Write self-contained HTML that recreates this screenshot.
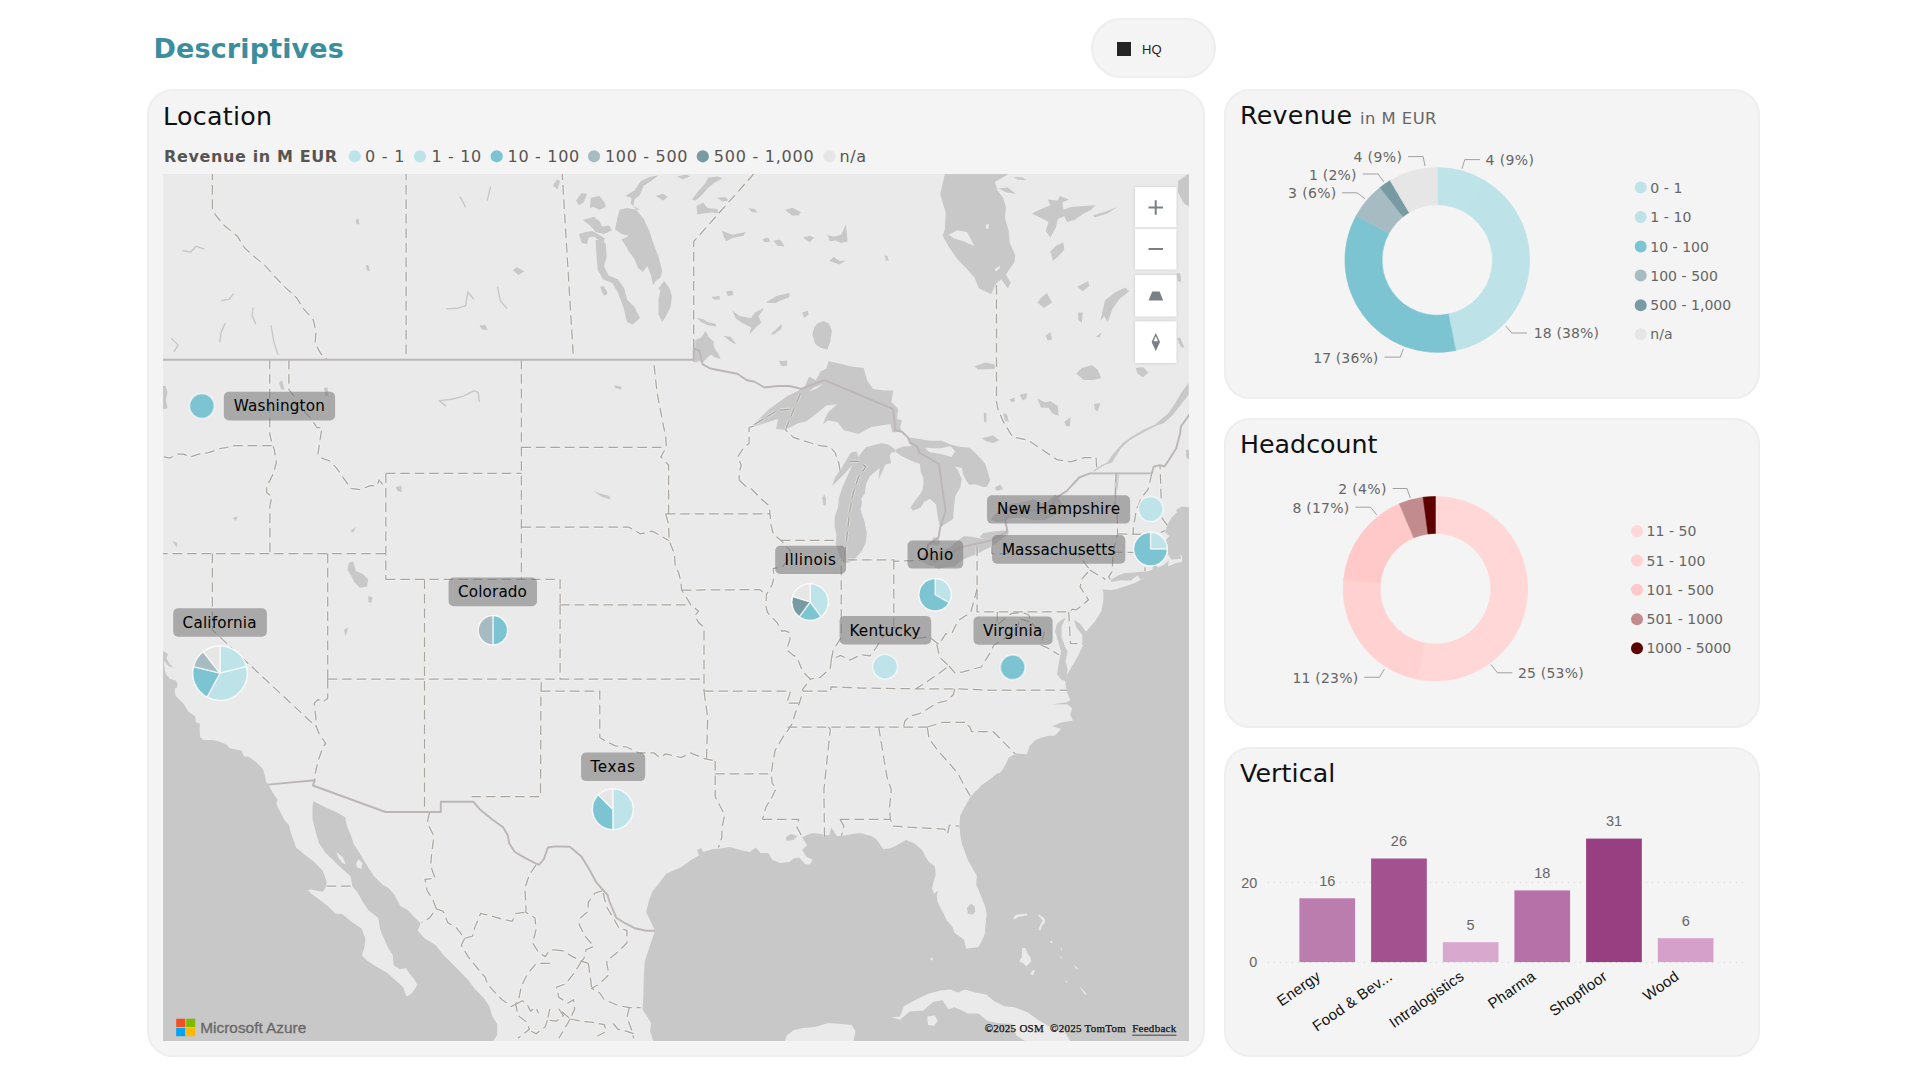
<!DOCTYPE html>
<html lang="en">
<head>
<meta charset="utf-8">
<title>Descriptives</title>
<style>
html,body{margin:0;padding:0;background:#fff;}
body{width:1920px;height:1080px;position:relative;overflow:hidden;font-family:"DejaVu Sans","Liberation Sans",sans-serif;color:#111;}
.abs{position:absolute;}
.card{position:absolute;background:#f4f4f4;border:2px solid #eee;border-radius:26px;box-sizing:border-box;}
.title{position:absolute;font-size:25.3px;line-height:30px;letter-spacing:0.3px;color:#111;white-space:nowrap;}
.h1{position:absolute;left:153.4px;top:31.3px;font-size:27px;letter-spacing:0.15px;line-height:36px;font-weight:bold;color:#3a8e9e;white-space:nowrap;}
.pill{position:absolute;left:1091px;top:18px;width:125px;height:60px;border-radius:30px;background:#f4f4f4;border:2px solid #eee;box-sizing:border-box;}
.pill i{position:absolute;left:24.3px;top:21.8px;width:14px;height:14px;background:#252525;}
.pill span{position:absolute;left:49px;top:22px;font:13px/16px "Liberation Sans",sans-serif;color:#252525;}
.lg{position:absolute;white-space:nowrap;font-size:16.5px;line-height:20px;color:#555;}
.lg b{color:#555;}
svg text{font-family:"DejaVu Sans","Liberation Sans",sans-serif;}
svg .seg text{font-family:"Liberation Sans",sans-serif;}
</style>
</head>
<body>
<div class="h1">Descriptives</div>
<div class="pill"><i></i><span>HQ</span></div>

<!-- LOCATION CARD -->
<div class="card" style="left:147px;top:89px;width:1058px;height:968px;"></div>
<div class="title" style="left:163px;top:101.7px;">Location</div>
<svg class="abs" style="left:160px;top:140px" width="760" height="34" viewBox="160 140 760 34">
<text x="164" y="162.4" font-size="16" font-weight="bold" fill="#575451" textLength="173.2" lengthAdjust="spacing">Revenue in M EUR</text>
<circle cx="354.8" cy="156.3" r="6.1" fill="#bee3e9"/>
<text x="365.0" y="162.4" font-size="16" fill="#575451" textLength="39.4" lengthAdjust="spacing">0 - 1</text>
<circle cx="420.0" cy="156.3" r="6.1" fill="#bde2e8"/>
<text x="431.6" y="162.4" font-size="16" fill="#575451" textLength="49.6" lengthAdjust="spacing">1 - 10</text>
<circle cx="496.7" cy="156.3" r="6.1" fill="#7cc4d1"/>
<text x="507.5" y="162.4" font-size="16" fill="#575451" textLength="71.8" lengthAdjust="spacing">10 - 100</text>
<circle cx="594.0" cy="156.3" r="6.1" fill="#a6bcc2"/>
<text x="605.0" y="162.4" font-size="16" fill="#575451" textLength="82.5" lengthAdjust="spacing">100 - 500</text>
<circle cx="702.8" cy="156.3" r="6.1" fill="#789ba3"/>
<text x="713.8" y="162.4" font-size="16" fill="#575451" textLength="99.8" lengthAdjust="spacing">500 - 1,000</text>
<circle cx="829.5" cy="156.3" r="6.1" fill="#e6e6e6"/>
<text x="839.4" y="162.4" font-size="16" fill="#575451" textLength="26.6" lengthAdjust="spacing">n/a</text>
</svg>
<svg class="abs" style="left:163px;top:174px" width="1026" height="867" viewBox="163 174 1026 867">
<defs><filter id="sh" x="-20%" y="-20%" width="140%" height="140%"><feDropShadow dx="0" dy="0" stdDeviation="1.5" flood-color="#000" flood-opacity="0.16"/></filter></defs>
<rect x="163" y="174" width="1026" height="867" fill="#eaeaea"/>
<g fill="#c8c8c8">
<path d="M158.0,659.1 L163.4,659.1 L163.8,660.1 L164.0,664.5 L164.4,667.0 L165.9,674.3 L170.2,679.1 L173.7,680.1 L175.6,680.3 L177.7,684.0 L176.6,688.3 L175.0,688.3 L174.8,691.2 L175.6,696.0 L183.3,703.2 L188.2,711.6 L195.0,716.3 L195.5,718.2 L195.9,722.3 L199.8,723.5 L199.6,729.4 L200.0,736.9 L203.3,740.0 L212.4,740.0 L218.2,741.2 L226.0,744.2 L229.8,748.2 L236.6,749.8 L241.5,750.5 L243.4,755.2 L245.3,757.1 L248.2,756.4 L253.1,759.8 L257.3,763.3 L263.0,769.1 L265.3,777.2 L265.9,781.4 L268.2,784.6 L272.4,792.1 L277.7,800.1 L276.3,803.6 L278.3,808.1 L284.1,819.4 L288.9,825.1 L290.8,833.0 L293.8,840.8 L296.1,847.5 L305.4,855.3 L314.1,862.0 L322.8,870.8 L326.7,881.8 L325.7,887.3 L322.8,891.7 L311.2,889.5 L307.9,889.9 L311.6,893.9 L318.9,899.3 L327.7,905.9 L335.4,913.5 L342.2,914.1 L351.9,922.1 L361.5,928.6 L365.4,938.3 L364.5,946.9 L361.9,955.4 L367.4,960.8 L375.1,966.1 L386.7,972.4 L396.4,980.9 L403.2,987.2 L406.1,995.7 L408.0,996.1 L412.5,992.5 L417.3,985.1 L414.8,979.9 L409.4,973.5 L406.1,968.2 L399.9,969.3 L393.5,965.0 L392.9,955.4 L387.7,946.9 L382.9,936.2 L380.3,929.7 L378.0,917.8 L368.3,910.2 L362.1,900.7 L357.7,892.8 L352.4,886.2 L350.5,876.3 L338.3,865.3 L325.7,853.1 L318.9,843.0 L316.2,834.1 L312.5,818.8 L312.5,808.1 L313.1,801.3 L318.0,803.6 L326.7,808.1 L337.3,812.6 L345.1,817.2 L347.0,826.2 L350.9,835.2 L353.8,844.2 L359.6,853.1 L363.5,859.7 L368.3,867.5 L374.1,876.3 L382.9,885.1 L388.7,888.0 L394.5,895.0 L400.3,905.9 L408.0,910.2 L412.9,915.7 L420.6,923.2 L417.7,930.8 L424.5,938.3 L435.2,944.7 L443.9,955.4 L454.5,966.1 L467.1,978.8 L475.4,989.4 L483.6,997.8 L489.4,1006.2 L492.3,1016.6 L497.3,1024.1 L497.1,1035.4 L493.3,1040.5 L493.3,1046.0 L158.0,1046.0Z"/>
<path d="M653.1,1046.0 L653.1,1040.5 L650.2,1031.2 L651.1,1022.9 L642.4,1009.3 L643.4,997.8 L643.8,977.3 L644.7,961.8 L650.2,944.7 L655.0,930.8 L650.2,920.3 L646.1,912.2 L649.2,900.0 L652.2,891.8 L660.4,881.6 L666.5,873.5 L680.7,867.4 L690.9,860.3 L699.1,855.2 L697.0,850.1 L701.1,848.0 L703.1,852.1 L713.3,849.1 L718.4,848.7 L729.6,847.1 L743.1,850.8 L749.9,852.0 L755.7,847.5 L760.6,853.1 L768.3,853.1 L772.2,859.7 L779.9,863.1 L789.6,862.0 L793.5,858.6 L799.3,857.5 L805.1,864.2 L810.2,864.4 L812.5,859.7 L806.1,856.4 L802.2,849.7 L807.1,845.3 L804.2,840.8 L802.2,837.4 L806.1,835.2 L810.9,833.6 L814.8,833.2 L821.6,834.3 L829.3,835.2 L831.3,827.3 L834.8,833.0 L837.1,836.3 L845.8,835.2 L855.5,833.4 L861.3,833.2 L871.9,836.3 L876.8,839.7 L883.4,849.3 L890.4,848.2 L896.9,845.3 L905.8,840.1 L913.6,843.0 L921.3,849.3 L926.2,857.5 L928.3,861.3 L934.9,866.4 L935.7,875.2 L933.5,881.8 L932.0,888.4 L934.1,893.9 L937.8,890.6 L936.8,896.1 L937.4,900.9 L939.5,905.9 L943.6,913.5 L946.5,920.0 L952.3,926.7 L954.7,932.9 L964.0,939.4 L966.1,948.6 L969.8,948.2 L978.5,946.9 L981.0,942.6 L984.7,934.6 L985.3,927.1 L986.6,914.6 L985.8,909.1 L984.1,903.7 L981.6,897.8 L980.2,893.9 L976.2,884.5 L976.9,876.1 L972.7,868.6 L967.8,859.7 L962.0,844.2 L960.3,835.2 L959.5,826.2 L960.1,816.0 L964.0,808.1 L970.7,796.7 L973.6,793.3 L978.5,788.7 L981.4,785.3 L989.7,779.5 L996.9,773.8 L1000.2,772.6 L1003.1,769.1 L1008.9,757.5 L1016.3,753.6 L1026.7,754.3 L1029.8,745.8 L1035.6,740.0 L1040.7,737.8 L1048.9,735.8 L1055.0,735.8 L1061.1,728.7 L1051.9,726.2 L1061.1,722.6 L1072.9,720.5 L1070.3,714.4 L1072.3,708.3 L1067.2,704.2 L1050.9,704.6 L1067.2,702.2 L1070.3,700.2 L1066.2,690.0 L1065.2,680.8 L1061.1,679.8 L1057.0,673.7 L1059.1,661.5 L1061.1,651.3 L1058.0,641.1 L1055.0,630.9 L1057.0,623.8 L1063.1,618.7 L1065.6,617.7 L1061.5,626.8 L1061.5,637.0 L1065.2,647.2 L1067.6,651.3 L1065.6,661.5 L1067.6,669.6 L1066.6,675.7 L1071.5,667.0 L1077.3,657.2 L1082.5,646.6 L1082.3,634.9 L1076.3,627.5 L1074.0,620.0 L1080.2,623.7 L1086.0,631.7 L1095.3,621.0 L1101.5,610.9 L1103.4,599.8 L1103.4,593.2 L1102.5,589.6 L1111.2,590.1 L1117.0,588.9 L1126.7,585.8 L1134.4,583.2 L1144.9,577.6 L1140.2,579.4 L1137.7,575.3 L1130.5,580.7 L1120.9,580.2 L1111.2,581.9 L1110.8,579.4 L1118.9,575.3 L1124.7,573.0 L1135.4,572.4 L1140.2,571.7 L1144.9,571.7 L1152.2,570.1 L1153.8,561.3 L1157.7,567.5 L1160.6,566.5 L1163.5,565.2 L1168.9,560.3 L1167.9,566.0 L1171.2,565.2 L1175.5,563.1 L1181.9,562.1 L1181.9,556.1 L1177.0,551.7 L1179.9,553.5 L1180.9,558.7 L1171.2,559.5 L1168.1,554.6 L1167.0,548.3 L1160.6,544.4 L1163.5,542.5 L1169.3,536.2 L1165.0,532.0 L1167.3,525.4 L1171.2,517.9 L1177.0,512.3 L1176.1,509.9 L1181.9,506.5 L1188.6,507.3 L1194.0,507.3 L1194.0,1046.0Z"/>
<path d="M752.8,424.7 L761.2,417.0 L769.3,409.1 L787.1,396.2 L799.7,390.1 L805.1,386.0 L809.0,376.7 L815.8,380.2 L820.6,371.5 L826.4,368.5 L828.4,361.2 L841.9,364.1 L849.7,366.2 L863.6,367.9 L867.1,380.2 L872.9,388.9 L884.5,390.4 L893.3,390.4 L891.3,401.9 L898.1,409.1 L897.1,419.0 L902.0,420.4 L900.0,427.5 L902.0,431.7 L892.3,432.3 L890.4,424.1 L871.4,427.0 L858.4,434.0 L843.9,430.3 L837.5,421.9 L828.4,420.4 L823.1,424.1 L825.5,417.6 L828.4,411.9 L837.1,404.2 L826.4,405.6 L819.6,411.1 L806.7,421.3 L798.3,423.3 L785.4,429.8 L776.1,428.9 L778.0,419.0 L768.3,421.9 L755.7,426.1Z"/>
<path d="M895.2,450.8 L895.2,449.4 L888.4,444.4 L881.8,443.2 L866.1,447.1 L860.3,454.1 L858.4,456.9 L856.5,451.3 L850.6,452.7 L845.8,461.0 L840.0,470.6 L835.1,477.5 L831.9,486.2 L838.1,480.2 L844.8,473.4 L852.2,465.1 L846.8,477.5 L841.9,488.4 L839.0,497.8 L838.1,507.3 L834.8,516.6 L834.6,526.5 L836.5,534.4 L835.7,544.1 L839.8,556.6 L845.2,563.4 L853.5,560.8 L861.7,550.9 L865.6,543.1 L866.9,533.3 L864.4,521.1 L860.5,509.9 L862.1,501.9 L861.1,498.9 L864.6,493.8 L866.3,483.5 L870.0,476.1 L879.7,467.9 L878.3,479.7 L881.6,473.4 L885.3,464.6 L891.1,463.2 L889.6,455.5 L891.3,452.4 L895.6,451.9Z"/>
<path d="M895.6,451.9 L900.6,455.5 L913.2,461.8 L919.8,463.8 L920.8,471.7 L923.3,477.5 L923.5,482.9 L922.7,489.2 L920.4,493.8 L915.9,499.7 L910.7,507.3 L912.6,510.7 L920.4,507.8 L923.9,502.2 L929.7,498.7 L936.1,504.6 L938.2,520.1 L940.3,527.2 L948.5,521.9 L953.1,519.0 L953.9,507.5 L955.4,495.7 L960.5,487.0 L961.6,478.9 L958.1,470.6 L954.9,466.5 L962.0,467.9 L963.0,473.9 L965.9,480.2 L969.2,484.8 L975.6,484.3 L983.3,487.0 L987.2,486.5 L990.1,480.2 L988.2,473.4 L985.3,463.8 L976.5,454.1 L969.8,447.7 L958.1,446.6 L950.4,444.4 L941.7,440.7 L930.1,440.7 L918.4,438.8 L907.8,437.4 L908.8,443.0 L911.7,446.0 L902.9,446.6 L895.8,449.4Z"/>
<path d="M920.0,561.3 L922.7,556.1 L926.2,552.2 L930.1,553.5 L936.8,554.0 L938.6,555.9 L939.2,552.2 L950.4,546.5 L956.2,541.7 L963.6,536.2 L971.7,536.8 L979.5,538.3 L986.2,539.1 L979.5,537.3 L983.3,533.1 L994.9,531.2 L1001.7,530.7 L1008.1,529.9 L1008.5,533.9 L1000.0,540.7 L991.1,547.0 L985.3,549.6 L976.5,554.3 L971.7,555.9 L962.0,560.0 L954.3,566.5 L945.0,567.3 L937.8,569.1 L934.9,567.5 L934.5,565.5 L930.3,566.0 L923.3,562.6Z"/>
<path d="M931.0,544.4 L933.0,537.8 L936.8,537.0 L940.3,541.7 L938.8,545.7Z"/>
<path d="M991.1,519.3 L994.0,515.3 L998.8,510.5 L1009.9,504.0 L1022.6,501.9 L1033.7,499.2 L1041.4,503.2 L1047.2,501.9 L1055.0,494.3 L1058.3,497.3 L1061.8,503.2 L1060.8,512.6 L1055.0,515.0 L1045.3,520.1 L1033.7,520.3 L1022.1,517.4 L1012.0,518.2 L1005.2,520.3 L1001.7,521.9 L995.9,521.9Z"/>
<path d="M694.7,359.7 L693.7,349.3 L698.6,344.9 L704.4,338.9 L712.1,341.9 L716.0,350.8 L708.3,356.7 L702.5,362.6Z"/>
<path d="M1114.7,511.3 L1114.7,495.1 L1114.7,481.6 L1116.0,472.0 L1118.9,474.8 L1117.9,487.0 L1115.4,500.5Z"/>
<path d="M1188.6,383.1 L1181.9,391.8 L1175.1,403.3 L1168.3,413.3 L1159.6,420.4 L1154.8,424.7 L1142.2,430.3 L1130.5,437.4 L1122.8,443.0 L1113.1,454.1 L1107.3,462.4 L1101.5,465.1 L1093.7,470.6 L1093.7,472.0 L1104.4,465.1 L1112.1,462.4 L1120.9,448.5 L1129.6,440.2 L1142.2,433.1 L1155.7,426.1 L1163.5,423.3 L1173.2,414.8 L1181.9,403.3 L1188.6,394.7Z"/>
<path d="M970.7,903.7 L974.6,905.9 L975.2,911.3 L972.7,914.6 L967.8,913.5 L966.9,908.1Z"/>
<path d="M785.8,837.4 L790.6,834.1 L797.4,835.9 L793.5,840.1 L786.7,840.8Z"/>
<path d="M615.0,229.3 L617.4,218.1 L619.6,209.8 L627.0,208.0 L636.3,209.8 L643.7,219.1 L649.3,231.1 L653.0,242.2 L658.5,257.0 L662.2,270.9 L660.4,277.4 L655.7,281.1 L653.0,285.2 L651.1,275.6 L647.4,266.3 L642.8,271.9 L638.1,268.1 L634.4,258.9 L628.9,251.5 L625.2,245.0 L621.5,239.4 L628.9,235.7 L621.5,233.9Z"/>
<path d="M664.1,281.1 L669.6,288.5 L671.9,295.9 L670.6,307.0 L665.9,316.3 L662.2,321.9 L658.5,314.4 L658.5,299.6 L660.4,290.4 L658.5,288.5Z"/>
<path d="M595.6,240.4 L601.1,238.5 L605.7,244.1 L606.7,257.0 L603.9,266.3 L608.5,275.6 L617.8,279.3 L624.3,288.5 L627.0,299.6 L634.4,307.0 L640.0,318.1 L632.6,324.6 L627.0,321.9 L623.3,307.0 L617.8,292.2 L612.2,283.0 L603.0,279.3 L597.8,270.0 L596.5,257.0Z"/>
<path d="M578.9,233.9 L585.4,232.0 L591.9,231.1 L599.3,234.8 L604.8,238.5 L603.0,243.1 L593.7,236.7 L588.5,237.6 L587.2,244.1 L581.7,243.1Z"/>
<path d="M582.6,220.0 L593.7,216.7 L599.3,220.9 L602.0,226.5 L609.4,225.6 L611.9,230.2 L603.9,233.9 L595.6,232.0 L590.0,225.6Z"/>
<path d="M600.2,286.7 L603.9,286.3 L607.6,293.1 L604.8,295.9 L602.0,292.2Z"/>
<path d="M576.1,200.6 L581.7,193.1 L587.2,194.1 L583.5,202.4 L578.9,205.2Z"/>
<path d="M590.9,197.8 L599.3,195.9 L604.8,202.4 L605.7,207.0 L599.3,209.8 L593.7,207.0 L590.0,208.0Z"/>
<path d="M553.0,185.7 L557.0,179.3 L560.0,181.1 L557.6,189.4Z"/>
<path d="M625.2,195.9 L634.4,190.4 L640.9,181.1 L651.1,176.5 L658.5,175.6 L651.1,181.1 L643.7,185.7 L640.0,195.0 L634.4,199.6 L633.5,206.1 L640.0,209.8 L636.3,209.8 L630.7,203.3 L631.7,197.8Z"/>
<path d="M655.7,195.9 L663.1,193.7 L667.8,196.9 L663.1,200.6Z"/>
<path d="M696.5,206.1 L703.0,202.4 L707.6,208.0 L716.9,208.9 L719.6,213.5 L711.3,212.6 L703.0,213.5 L697.4,214.4Z"/>
<path d="M691.9,199.6 L697.4,192.2 L704.8,183.9 L708.5,177.4 L717.8,176.5 L722.4,178.3 L714.1,183.0 L707.6,188.5 L701.1,195.9 L695.6,200.6Z"/>
<path d="M785.4,209.8 L791.9,208.0 L799.3,211.7 L799.3,215.4 L791.9,215.4Z"/>
<path d="M722.4,231.1 L732.6,234.8 L745.6,232.0 L743.7,235.7 L732.6,238.1 L726.1,241.3 L723.3,235.7Z"/>
<path d="M732.6,310.7 L740.0,316.3 L751.1,318.1 L754.8,312.6 L764.1,308.0 L758.5,316.3 L761.3,322.8 L755.7,327.4 L749.3,334.8 L751.1,327.4 L741.9,322.8 L735.4,318.1Z"/>
<path d="M765.9,302.4 L775.2,297.8 L789.1,293.1 L789.1,296.9 L778.0,300.6 L776.1,303.3Z"/>
<path d="M694.6,340.4 L701.1,337.6 L705.7,331.1 L708.5,336.7 L714.1,342.2 L712.2,347.8 L717.8,352.4 L720.6,358.9 L714.1,357.0 L706.7,350.6 L701.1,352.4 L697.4,362.6 L692.8,361.7Z"/>
<path d="M696.5,318.1 L703.0,319.1 L707.6,321.9 L715.9,323.7 L715.9,326.5 L707.6,325.2 L701.1,321.9Z"/>
<path d="M723.3,335.7 L730.7,336.7 L736.3,344.1 L732.6,343.1 L728.0,339.4Z"/>
<path d="M726.1,291.3 L732.6,290.4 L733.5,295.0 L728.0,295.9Z"/>
<path d="M711.3,296.9 L719.6,295.9 L719.6,299.6 L714.1,299.6Z"/>
<path d="M763.1,239.4 L768.7,238.1 L769.6,241.3 L765.0,242.2Z"/>
<path d="M773.3,240.4 L780.7,240.0 L784.4,246.9 L778.9,245.0Z"/>
<path d="M716.9,197.8 L725.2,196.9 L728.9,200.6 L722.4,201.5Z"/>
<path d="M748.3,208.0 L754.8,208.9 L757.6,212.6 L752.0,212.2Z"/>
<path d="M677.0,176.5 L686.3,174.6 L690.0,176.5 L682.6,179.3Z"/>
<path d="M770.6,333.9 L778.9,327.4 L780.7,324.1 L781.7,328.3 L775.2,333.0Z"/>
<path d="M944.8,166.3 L944.8,174.6 L940.2,194.1 L945.7,212.6 L944.8,229.3 L942.6,235.7 L949.4,247.8 L957.8,259.8 L967.0,269.1 L974.4,277.4 L979.1,288.5 L991.1,294.1 L996.3,283.3 L1001.3,279.3 L1007.8,288.5 L1010.6,283.0 L1005.9,274.6 L1014.3,262.6 L1015.2,255.2 L1009.6,242.2 L1008.7,231.1 L1005.0,218.1 L1005.9,207.0 L1003.1,197.8 L997.6,190.4 L994.8,182.0 L1007.8,174.6 L1007.8,166.3Z"/>
<path d="M1031.9,213.5 L1041.1,208.9 L1050.4,205.2 L1047.6,199.6 L1057.8,200.6 L1059.6,195.9 L1068.9,199.6 L1062.4,202.4 L1063.3,209.8 L1070.7,207.0 L1083.7,206.1 L1095.7,205.2 L1091.1,209.8 L1083.7,213.5 L1074.4,220.0 L1067.0,221.9 L1064.3,216.3 L1057.8,219.1 L1055.9,227.4 L1050.4,237.6 L1045.7,231.1 L1048.5,221.9 L1041.1,218.1Z"/>
<path d="M1093.0,215.4 L1107.8,210.7 L1117.0,207.0 L1107.8,213.5 L1094.8,217.2Z"/>
<path d="M1050.4,251.5 L1055.9,245.9 L1063.3,242.2 L1064.3,249.6 L1057.8,257.0 L1053.1,260.7Z"/>
<path d="M1100.4,320.9 L1105.0,300.6 L1115.2,292.2 L1125.4,287.6 L1129.1,291.3 L1118.9,299.6 L1112.4,308.9 L1107.8,321.9 L1104.1,316.3Z"/>
<path d="M1077.2,286.7 L1088.3,281.1 L1089.3,285.7 L1082.8,291.3Z"/>
<path d="M1037.4,302.4 L1041.1,297.8 L1046.7,293.1 L1052.2,302.4 L1043.9,308.0Z"/>
<path d="M1078.1,312.6 L1082.8,312.6 L1081.9,322.8 L1078.1,320.0Z"/>
<path d="M1178.1,181.1 L1187.4,174.6 L1193.0,174.6 L1193.0,208.9 L1189.3,207.0 L1183.7,203.3 L1178.1,192.2Z"/>
<path d="M998.5,188.5 L1007.8,187.6 L1016.1,194.1 L1005.9,192.2Z"/>
<path d="M1013.3,177.0 L1022.6,177.4 L1026.3,180.2 L1017.0,179.6Z"/>
<path d="M1045.7,335.7 L1050.4,332.0 L1052.2,339.4 L1047.6,340.4Z"/>
<path d="M1095.7,336.7 L1102.2,332.0 L1099.4,337.6Z"/>
<path d="M974.4,366.3 L985.6,362.6 L994.8,364.4 L994.8,369.1 L978.1,369.6Z"/>
<path d="M1176.3,273.7 L1180.0,272.8 L1181.5,282.0 L1178.1,281.1Z"/>
<path d="M1177.2,338.5 L1180.0,337.6 L1184.6,347.8 L1180.9,346.9Z"/>
<path d="M785.6,210.7 L793.0,208.0 L801.3,212.6 L793.9,215.4Z"/>
<path d="M803.1,237.6 L809.6,235.7 L814.3,237.6 L809.6,242.2Z"/>
<path d="M827.2,234.8 L833.7,236.7 L841.1,234.8 L845.4,225.6 L846.1,225.6 L847.6,241.3 L841.1,243.1 L835.6,240.4 L830.0,241.3Z"/>
<path d="M829.1,260.7 L833.7,257.0 L839.3,260.7 L845.7,260.7 L839.3,264.4Z"/>
<path d="M884.6,255.2 L887.4,256.1 L888.9,260.7 L885.9,260.4Z"/>
<path d="M762.4,239.4 L767.0,237.6 L770.7,241.3 L765.2,242.2Z"/>
<path d="M773.5,241.3 L779.1,239.4 L784.6,245.9 L778.1,245.9Z"/>
<path d="M812.4,334.8 L814.3,327.4 L817.0,323.7 L823.5,320.9 L829.1,323.7 L831.9,331.1 L830.0,342.2 L827.2,349.6 L820.7,347.8 L815.2,344.1Z"/>
<path d="M802.2,312.6 L807.8,310.7 L808.7,314.4 L804.1,318.1Z"/>
<path d="M766.1,302.4 L776.3,295.9 L789.3,293.1 L789.3,296.9 L776.3,302.4Z"/>
<path d="M770.7,334.8 L778.1,327.4 L781.9,324.6 L780.9,329.3 L774.4,333.9Z"/>
<path d="M779.1,360.7 L787.4,361.7 L786.5,366.3 L780.9,365.4Z"/>
<path d="M1076.3,373.5 L1081.9,368.0 L1092.0,365.2 L1097.6,369.8 L1101.3,378.1 L1093.0,380.0 L1083.7,380.0Z"/>
<path d="M1135.6,368.0 L1143.0,367.0 L1148.5,372.6 L1143.0,377.2 L1137.4,373.5Z"/>
<path d="M1037.4,398.5 L1044.8,402.2 L1050.4,401.3 L1057.8,405.9 L1058.7,416.1 L1052.2,413.3 L1048.5,407.8 L1041.1,407.8Z"/>
<path d="M981.9,438.3 L993.0,435.6 L999.4,440.2 L993.0,443.0 L985.6,441.1Z"/>
<path d="M994.8,487.4 L1000.4,484.6 L1003.1,489.3 L996.7,491.1Z"/>
<path d="M1009.6,399.4 L1014.3,397.6 L1015.2,401.3 L1011.5,402.2Z"/>
<path d="M1019.8,394.8 L1027.2,393.0 L1026.3,398.5 L1022.6,400.4Z"/>
<path d="M1064.3,421.7 L1070.7,417.0 L1069.8,426.3 L1066.1,426.3Z"/>
<path d="M1093.9,404.1 L1100.4,403.1 L1097.6,411.5 L1094.8,409.6Z"/>
<path d="M983.7,412.4 L986.5,413.3 L986.5,422.6 L984.1,421.7Z"/>
<path d="M1003.1,413.3 L1006.9,414.3 L1008.7,421.7 L1005.0,420.7Z"/>
<path d="M1185.6,449.4 L1189.3,450.4 L1189.3,459.6 L1186.5,457.8Z"/>
<path d="M822.4,497.4 L824.3,494.6 L826.1,499.3 L825.6,505.7 L823.3,504.8Z"/>
<path d="M814.1,341.9 L821.5,338.1 L830.7,340.0 L827.0,349.3 L819.6,346.5Z"/>
<path d="M779.8,361.3 L787.2,360.4 L786.3,365.9 L781.1,365.9Z"/>
<path d="M512.8,270.0 L516.9,267.2 L524.4,271.4 L518.3,275.0Z"/>
<path d="M479.4,325.6 L485.0,325.0 L487.8,329.7 L482.2,329.7Z"/>
<path d="M278.9,382.5 L282.2,380.6 L284.4,389.4 L281.1,389.4Z"/>
<path d="M323.9,388.1 L327.5,387.2 L328.9,396.4 L325.0,395.6Z"/>
<path d="M355.8,219.4 L358.6,218.6 L359.2,224.2 L356.4,224.2Z"/>
<path d="M365.6,265.0 L368.9,265.8 L369.7,271.4 L366.9,270.0Z"/>
<path d="M614.2,385.3 L621.7,386.7 L621.1,389.4 L615.6,388.3Z"/>
<path d="M348.9,562.8 L353.1,561.4 L355.8,571.1 L362.8,573.9 L368.3,579.4 L366.9,586.4 L360.0,587.8 L354.4,582.2 L351.7,576.7 L347.5,569.7Z"/>
<path d="M368.3,596.1 L372.5,597.5 L371.1,603.1 L368.3,601.7Z"/>
<path d="M232.8,517.8 L237.8,516.4 L235.6,521.1Z"/>
<path d="M350.6,530.8 L356.1,526.7 L353.1,532.8Z"/>
<path d="M343.9,629.4 L348.3,627.8 L345.6,636.4Z"/>
<path d="M395.6,487.2 L401.1,485.6 L401.7,491.9 L397.5,491.1Z"/>
<path d="M172.5,541.1 L177.2,542.8 L176.7,547.5Z"/>
<path d="M593.3,491.1 L601.7,493.9 L609.4,496.1 L610.0,499.4 L601.7,496.7Z"/>
<path d="M163.0,651.0 L164.9,652.1 L168.3,654.2 L166.3,658.3 L169.7,663.9 L173.9,668.1 L168.3,666.0 L164.2,661.1 L163.0,661.0Z"/>
<path d="M163.0,386.0 L165.5,386.0 L167.5,392.0 L166.0,400.0 L167.5,408.0 L165.0,409.0 L163.0,409.0Z"/>
</g>
<g fill="none" stroke="#c8c8c8" stroke-width="1.4">
<path d="M439.2,400.6 L451.7,399.2 L462.8,396.4 L473.9,390.8 L478.1,392.2 L479.4,401.9"/>
<path d="M182.2,250.6 L190.6,251.9 L196.1,246.4 L204.4,249.2"/>
<path d="M221.1,300.6 L229.4,299.2 L233.6,293.6"/>
<path d="M253.1,307.5 L252.2,315.8 L255.8,324.2"/>
<path d="M225.3,322.8 L221.1,332.5 L219.7,342.2"/>
<path d="M271.1,325.6 L273.9,342.2 L278.1,354.7"/>
<path d="M446.1,308.9 L457.2,308.3 L465.6,305.6 L467.8,292.2 L473.9,299.2"/>
<path d="M497.5,286.7 L500.3,300.6 L507.2,308.9"/>
<path d="M460.0,196.4 L465.6,207.5"/>
<path d="M490.6,186.7 L487.2,200.6"/>
<path d="M171.1,338.1 L178.1,345.0 L173.9,351.9"/>
<path d="M439.2,400.6 L446.1,406.1"/>
</g>
<g fill="#eaeaea">
<path d="M784.8,1041.6 L786.7,1035.4 L793.5,1030.2 L803.2,1028.1 L814.8,1027.0 L828.4,1022.9 L841.9,1023.9 L851.6,1025.0 L855.5,1031.2 L853.5,1041.6Z"/>
<path d="M891.3,1017.2 L900.0,1016.6 L903.9,1006.2 L917.5,998.8 L929.1,993.6 L940.7,990.4 L950.4,989.4 L958.1,992.5 L964.9,989.4 L975.6,992.5 L986.2,994.6 L994.0,1000.9 L1004.6,1006.2 L1014.3,1007.2 L1027.9,1012.4 L1037.6,1019.8 L1043.4,1022.9 L1053.1,1029.1 L1064.7,1031.2 L1070.5,1041.6 L1025.9,1041.6 L1016.3,1035.4 L1012.4,1023.9 L996.9,1022.9 L987.2,1020.8 L978.5,1013.5 L967.8,1013.5 L962.0,1010.4 L954.3,1007.2 L948.5,1009.3 L942.6,1000.3 L933.0,1002.0 L923.3,1010.4 L909.7,1011.4 L900.0,1019.8 L891.3,1017.2Z"/>
<path d="M927.2,1016.6 L934.9,1015.6 L937.8,1020.8 L933.9,1026.0 L928.1,1025.0Z"/>
<path d="M336.4,852.0 L343.1,857.5 L345.7,864.2 L342.2,863.1 L338.3,857.5Z"/>
<path d="M358.6,859.3 L362.5,863.1 L361.5,869.0 L356.7,867.5 L356.1,863.1Z"/>
<path d="M809.0,391.8 L815.8,388.9 L823.5,383.7 L821.6,384.6 L813.8,387.5Z"/>
<path d="M925.2,447.7 L938.8,448.5 L950.4,446.3 L955.2,451.3 L951.4,456.9 L940.7,454.1 L929.1,451.9Z"/>
<path d="M948.5,234.8 L957.8,230.2 L967.0,232.0 L974.4,245.9 L963.3,241.3 L954.1,238.5Z"/>
<path d="M985.9,224.6 L988.9,224.3 L988.3,228.9 L986.1,228.9Z"/>
<path d="M994.8,269.1 L1000.4,265.4 L998.9,269.6 L995.7,271.5Z"/>
<path d="M1013.0,918.5 L1016.1,914.8 L1027.3,913.6 L1027.3,915.2 L1018.1,916.9 L1014.1,919.3Z"/>
<path d="M1037.5,914.4 L1040.5,915.4 L1044.6,918.5 L1045.0,922.6 L1041.5,926.6 L1040.5,930.7 L1038.5,929.7 L1040.5,924.6 L1042.6,920.5 L1039.5,916.9Z"/>
<path d="M1022.2,948.0 L1025.3,948.0 L1027.3,953.1 L1030.3,957.2 L1031.4,961.3 L1026.3,966.4 L1023.2,963.3 L1019.1,961.3 L1021.8,957.2Z"/>
<path d="M1030.3,973.5 L1033.4,969.4 L1034.8,971.4 L1032.4,975.5Z"/>
<path d="M1050.3,940.9 L1052.7,941.3 L1052.3,942.9 L1050.7,942.9Z"/>
<path d="M1060.9,948.0 L1062.1,948.6 L1061.9,951.1Z"/>
<path d="M1059.9,956.2 L1061.5,957.2 L1060.9,958.8Z"/>
<path d="M1074.1,965.3 L1078.2,968.4 L1077.6,969.8 L1074.7,967.0Z"/>
<path d="M1064.6,980.6 L1067.4,981.6 L1067.0,982.9Z"/>
<path d="M1080.2,986.7 L1086.4,993.8 L1085.3,994.9 L1080.9,988.8Z"/>
<path d="M930.5,958.2 L933.0,957.6 L932.6,960.2 L931.0,960.2Z"/>
</g>
<g fill="none" stroke="rgba(255,255,255,0.35)" stroke-width="3.4" stroke-dasharray="9.5 5">
<path d="M129.1,553.5 L385.8,553.5"/>
<path d="M212.4,553.5 L212.4,630.0 L316.4,727.0"/>
<path d="M327.7,679.1 L327.7,698.4 L322.8,702.0 L318.0,699.6 L314.3,703.2 L315.6,715.2 L316.4,727.0 L319.3,734.1 L325.7,743.5 L323.0,747.0 L318.4,759.8 L315.1,773.8 L314.7,780.2"/>
<path d="M327.7,553.5 L327.7,679.1"/>
<path d="M269.7,359.7 L269.7,434.0 L271.9,443.0 L274.4,449.9 L276.3,462.4 L273.4,473.4 L266.6,487.0 L266.6,492.4 L271.9,496.5 L269.9,505.9 L269.9,553.5"/>
<path d="M164.0,456.9 L169.8,458.2 L177.5,454.1 L183.3,454.1 L190.1,456.9 L198.8,454.1 L208.5,452.7 L220.1,448.5 L226.0,447.7 L232.2,445.7 L272.1,445.7"/>
<path d="M288.9,359.7 L288.9,389.5 L295.3,397.6 L295.7,404.8 L303.4,410.5 L310.2,417.6 L317.0,427.5 L322.2,427.5 L319.9,440.2 L318.0,454.1 L321.8,458.2 L329.6,461.0 L336.4,467.9 L344.1,478.9 L350.9,488.4 L359.6,489.7 L370.3,485.7 L377.0,485.7 L379.0,480.2 L385.8,487.6"/>
<path d="M385.8,473.4 L385.8,579.4"/>
<path d="M385.8,473.4 L521.4,473.4"/>
<path d="M521.4,359.7 L521.4,579.4"/>
<path d="M521.4,447.4 L666.4,447.4"/>
<path d="M385.8,579.4 L560.1,579.4"/>
<path d="M560.1,579.4 L560.1,604.9"/>
<path d="M560.1,604.9 L690.8,604.9"/>
<path d="M560.1,604.9 L560.1,679.1"/>
<path d="M327.7,679.1 L704.0,679.1"/>
<path d="M424.5,579.4 L424.5,812.0"/>
<path d="M471.6,796.7 L540.5,796.7 L540.9,691.2 L541.7,679.1"/>
<path d="M540.9,691.2 L599.8,691.2 L599.8,737.4 L605.6,741.2 L615.3,745.8 L626.9,747.0 L638.5,752.9 L654.0,752.9 L659.8,757.5 L665.7,754.0 L681.2,757.5 L690.8,752.9 L704.4,758.7 L715.2,761.0"/>
<path d="M704.0,691.2 L707.7,717.5 L706.5,758.9"/>
<path d="M715.2,761.0 L715.2,796.7 L719.9,805.8 L724.7,814.9 L721.8,828.5 L721.8,837.4 L718.5,847.5"/>
<path d="M715.2,773.8 L771.2,773.8"/>
<path d="M521.4,527.2 L628.9,527.2 L640.5,533.9 L652.1,531.2 L659.8,535.2 L669.1,540.7"/>
<path d="M668.6,513.9 L668.6,465.1 L660.8,456.9 L666.4,447.4 L665.7,437.4 L662.4,420.4 L656.9,391.8 L653.5,359.7"/>
<path d="M665.7,513.9 L769.9,513.9"/>
<path d="M665.7,513.9 L668.6,524.6 L669.1,540.7 L674.4,553.5 L675.3,566.5 L678.8,573.0 L680.8,581.9 L681.7,590.1 L687.0,598.5 L690.8,604.9 L698.6,611.2 L694.7,615.9 L698.6,622.5 L704.0,627.5 L704.0,691.2"/>
<path d="M681.7,590.1 L760.0,589.6 L766.0,595.2"/>
<path d="M704.0,691.2 L790.6,691.2 L786.7,703.2 L799.3,703.2"/>
<path d="M739.3,480.2 L745.1,485.7 L750.9,488.4 L761.5,499.2 L769.3,505.9 L769.9,513.9 L771.2,525.9 L773.2,533.9 L780.9,540.4 L790.4,550.9 L790.0,557.4 L782.8,566.5 L773.2,568.6 L774.1,576.8 L772.2,584.5 L766.4,594.7 L766.0,606.6 L767.4,612.4 L777.0,622.5 L781.9,631.2 L785.2,630.7 L790.0,632.9 L790.0,639.2 L786.7,649.8 L793.5,655.4 L797.0,657.2 L802.8,671.8 L810.4,679.1 L802.6,689.3 L803.2,691.2 L799.3,703.2 L795.4,712.8 L792.1,723.9 L787.7,730.6 L782.3,738.1 L775.1,750.5 L772.6,764.5 L771.2,773.8 L772.2,783.0 L776.1,788.7 L772.2,796.7 L766.0,807.0 L762.5,819.4"/>
<path d="M762.5,819.4 L798.7,819.4 L797.0,827.3 L802.8,837.9"/>
<path d="M753.8,426.1 L749.1,427.5 L749.1,443.5 L744.1,447.1 L737.7,456.9 L741.2,465.1 L739.3,472.0 L739.3,480.2"/>
<path d="M780.9,540.4 L836.1,540.4"/>
<path d="M840.0,470.6 L839.0,463.8 L835.1,452.7 L830.3,447.1 L820.6,445.7 L810.9,443.0 L793.5,437.4 L785.4,429.8"/>
<path d="M831.3,659.6 L833.2,649.8 L841.5,637.4 L841.3,621.2 L841.3,559.8"/>
<path d="M893.8,627.5 L893.8,561.3"/>
<path d="M847.7,559.8 L893.8,559.8 L893.8,561.3 L920.4,560.5"/>
<path d="M977.1,588.6 L973.3,603.1 L970.7,612.4 L959.1,620.0 L956.8,623.2 L952.3,632.5 L945.7,633.9 L938.8,644.4 L929.1,636.7 L914.2,638.7 L900.0,627.5 L893.8,627.5 L883.0,636.7 L875.8,648.1 L870.0,655.9 L861.3,654.7 L849.7,660.1 L840.6,655.4 L831.3,659.6 L830.3,668.2 L820.6,677.2 L810.0,679.1"/>
<path d="M936.8,644.4 L939.7,657.2 L949.0,666.0 L937.8,674.3 L927.2,681.6 L915.9,688.8"/>
<path d="M803.2,691.2 L830.9,691.2 L830.9,686.9 L861.3,688.1 L915.9,688.8 L954.7,688.8 L987.2,690.0 L1067.2,690.0"/>
<path d="M787.7,727.0 L927.2,727.0"/>
<path d="M954.7,689.0 L953.3,694.8 L946.5,700.8 L936.8,703.2 L927.2,709.2 L919.4,713.7 L909.7,716.3 L904.9,721.1 L903.5,727.0"/>
<path d="M828.4,727.0 L830.3,729.4 L823.9,789.9 L824.5,837.0"/>
<path d="M878.7,727.0 L886.9,776.8 L891.3,789.9 L889.4,808.1 L890.4,819.4 L893.1,826.2"/>
<path d="M840.0,819.4 L890.4,819.4"/>
<path d="M840.0,819.4 L843.9,826.2 L841.5,835.6"/>
<path d="M893.1,826.2 L944.6,829.1 L947.5,833.9 L949.4,825.1 L959.1,826.2"/>
<path d="M970.3,796.0 L964.0,785.3 L958.1,773.8 L949.0,762.9 L937.8,750.5 L929.1,738.8 L927.2,727.0"/>
<path d="M927.2,727.0 L942.6,722.3 L966.9,722.3 L967.1,724.7 L969.8,727.0 L971.7,731.7 L993.4,731.7 L1015.3,754.0"/>
<path d="M949.0,666.0 L955.2,673.1 L963.0,671.8 L971.7,669.4 L981.4,667.0 L988.2,655.9 L994.0,644.9 L1002.7,639.9 L1009.5,633.7 L1018.2,626.2 L1019.2,618.7 L1031.2,622.0"/>
<path d="M997.3,611.9 L997.3,625.0 L1004.6,618.7 L1011.2,613.7 L1022.5,612.4 L1028.8,614.9 L1031.2,622.0 L1035.6,627.5 L1044.3,632.5 L1040.5,644.9 L1046.3,647.3 L1058.9,654.7"/>
<path d="M977.1,546.5 L977.1,611.9 L1068.7,611.9 L1072.4,609.2 L1075.9,609.9"/>
<path d="M991.8,546.5 L991.8,553.5 L1077.3,553.5 L1089.9,569.9 L1081.5,579.4 L1080.2,587.1 L1088.5,599.8 L1081.5,606.1 L1075.9,609.9"/>
<path d="M1068.7,611.9 L1070.5,643.4 L1083.1,643.6"/>
<path d="M1089.9,570.1 L1105.4,579.4"/>
<path d="M1110.2,579.4 L1108.6,576.8 L1112.1,571.7 L1113.1,552.2 L1117.6,533.9 L1117.0,511.3 L1114.7,511.3 L1116.0,473.4"/>
<path d="M1117.6,533.9 L1155.7,534.6 L1165.0,530.7"/>
<path d="M1113.1,552.2 L1146.0,552.7 L1154.2,553.0 L1156.7,561.3 L1159.0,566.5"/>
<path d="M1146.0,552.7 L1144.9,571.2"/>
<path d="M1151.8,473.4 L1148.0,489.7 L1141.2,497.8 L1136.3,509.9 L1133.4,527.2 L1133.2,534.4"/>
<path d="M1167.3,525.4 L1161.9,517.9 L1160.0,465.1"/>
<path d="M212.4,170.6 L212.4,210.5 L217.2,217.0 L224.0,225.2 L237.6,236.5 L244.4,247.7 L253.1,255.7 L264.7,265.2 L274.4,276.1 L285.0,287.1 L296.7,297.9 L303.4,308.6 L313.1,319.3 L316.0,331.4 L315.1,343.4 L320.9,353.8 L327.3,359.7"/>
<path d="M406.1,170.6 L406.1,359.7"/>
<path d="M562.0,170.6 L573.5,359.7"/>
<path d="M693.7,348.4 L693.7,241.6 L756.7,170.6"/>
<path d="M996.5,284.9 L996.5,401.9 L997.9,409.1 L1002.7,420.4 L1012.4,436.8 L1027.9,440.2 L1043.4,450.5 L1056.9,459.6 L1070.5,461.8 L1084.1,457.7 L1096.1,457.7 L1096.6,467.9"/>
<path d="M429.5,812.5 L427.2,822.7 L434.0,836.3 L431.8,852.2 L430.6,865.8 L435.2,878.3 L425.0,879.4 L427.2,890.8 L432.9,899.8 L436.3,908.9 L429.5,918.0 L421.6,922.5"/>
<path d="M436.3,908.9 L443.1,911.2 L447.7,922.5 L456.7,928.2 L464.7,938.4 L472.6,936.1 L474.9,927.1 L480.6,913.5 L490.8,915.7 L502.1,919.1 L512.3,921.4 L515.7,913.5 L525.9,912.3"/>
<path d="M536.1,864.7 L529.3,874.9 L524.8,888.5 L525.9,904.4 L525.9,912.3 L535.0,918.0 L536.1,929.3 L532.7,943.0 L538.4,952.0 L545.2,956.6 L549.8,949.8 L554.3,949.8"/>
<path d="M464.7,938.4 L461.3,945.2 L468.1,956.6 L477.1,967.9 L485.1,977.0 L487.4,983.8 L495.3,992.9 L502.1,999.7 L511.2,1006.5 L515.7,1004.2"/>
<path d="M549.8,963.4 L536.1,963.4 L527.1,974.7 L521.4,986.1 L519.1,997.4 L515.7,1004.2 L518.0,1015.6 L527.1,1022.4 L529.3,1029.2 L518.0,1038.3"/>
<path d="M554.3,949.8 L563.4,950.9 L572.5,956.6 L581.5,961.1 L588.3,963.4"/>
<path d="M602.0,890.8 L595.1,893.0 L588.3,902.1 L588.3,911.2 L580.4,918.0 L579.3,924.8 L584.9,936.1 L594.0,946.4 L586.1,949.8 L583.8,958.8 L581.5,961.1"/>
<path d="M603.1,893.0 L606.5,906.6 L613.3,918.0 L619.0,928.2 L626.9,930.5 L626.9,943.0 L617.8,952.0 L606.5,961.1 L608.8,974.7 L599.7,983.8 L591.7,988.3 L599.7,992.9 L604.2,999.7 L617.8,1005.4 L629.2,1007.6 L640.5,1007.6"/>
<path d="M588.3,963.4 L590.6,979.3 L591.7,988.3"/>
<path d="M581.5,961.1 L574.7,972.5 L565.6,983.8 L556.6,987.2 L558.8,997.4 L567.9,1003.1 L573.6,999.7 L574.7,1008.8 L570.2,1019.0 L558.8,1008.8"/>
<path d="M629.2,1007.6 L626.9,1017.8 L631.4,1029.2 L633.7,1038.3"/>
<path d="M570.2,1019.0 L581.5,1021.2 L592.9,1022.4 L604.2,1024.6 L606.5,1031.4 L597.4,1036.0"/>
<path d="M558.8,1008.8 L563.4,1015.6 L556.6,1021.2 L547.5,1020.1 L549.8,1008.8"/>
<path d="M547.5,1020.1 L545.2,1026.9 L536.1,1033.7 L527.1,1029.2"/>
<path d="M570.2,1019.0 L565.6,1026.9 L558.8,1038.3"/>
<path d="M613.3,1023.5 L617.8,1029.2 L626.9,1031.4 L633.7,1033.7"/>
<path d="M515.7,1004.2 L522.5,1000.8 L527.1,1004.2 L530.5,1011.0 L536.1,1007.6 L538.4,1013.3"/>
<path d="M326.7,886.2 L352.3,886.2"/>
<path d="M755.0,424.2 L777.2,410.3 L793.9,408.9"/>
<path d="M785.6,429.7 L793.9,408.9 L802.2,389.4"/>
<path d="M849.3,461.3 L858.5,461.3 L865.9,466.9 L858.5,477.0 L853.0,493.7 L849.3,514.1 L846.0,545.0 L843.5,562.0"/>
</g>
<g fill="none" stroke="#aaa59f" stroke-width="1.25" stroke-dasharray="9.5 5">
<path d="M129.1,553.5 L385.8,553.5"/>
<path d="M212.4,553.5 L212.4,630.0 L316.4,727.0"/>
<path d="M327.7,679.1 L327.7,698.4 L322.8,702.0 L318.0,699.6 L314.3,703.2 L315.6,715.2 L316.4,727.0 L319.3,734.1 L325.7,743.5 L323.0,747.0 L318.4,759.8 L315.1,773.8 L314.7,780.2"/>
<path d="M327.7,553.5 L327.7,679.1"/>
<path d="M269.7,359.7 L269.7,434.0 L271.9,443.0 L274.4,449.9 L276.3,462.4 L273.4,473.4 L266.6,487.0 L266.6,492.4 L271.9,496.5 L269.9,505.9 L269.9,553.5"/>
<path d="M164.0,456.9 L169.8,458.2 L177.5,454.1 L183.3,454.1 L190.1,456.9 L198.8,454.1 L208.5,452.7 L220.1,448.5 L226.0,447.7 L232.2,445.7 L272.1,445.7"/>
<path d="M288.9,359.7 L288.9,389.5 L295.3,397.6 L295.7,404.8 L303.4,410.5 L310.2,417.6 L317.0,427.5 L322.2,427.5 L319.9,440.2 L318.0,454.1 L321.8,458.2 L329.6,461.0 L336.4,467.9 L344.1,478.9 L350.9,488.4 L359.6,489.7 L370.3,485.7 L377.0,485.7 L379.0,480.2 L385.8,487.6"/>
<path d="M385.8,473.4 L385.8,579.4"/>
<path d="M385.8,473.4 L521.4,473.4"/>
<path d="M521.4,359.7 L521.4,579.4"/>
<path d="M521.4,447.4 L666.4,447.4"/>
<path d="M385.8,579.4 L560.1,579.4"/>
<path d="M560.1,579.4 L560.1,604.9"/>
<path d="M560.1,604.9 L690.8,604.9"/>
<path d="M560.1,604.9 L560.1,679.1"/>
<path d="M327.7,679.1 L704.0,679.1"/>
<path d="M424.5,579.4 L424.5,812.0"/>
<path d="M471.6,796.7 L540.5,796.7 L540.9,691.2 L541.7,679.1"/>
<path d="M540.9,691.2 L599.8,691.2 L599.8,737.4 L605.6,741.2 L615.3,745.8 L626.9,747.0 L638.5,752.9 L654.0,752.9 L659.8,757.5 L665.7,754.0 L681.2,757.5 L690.8,752.9 L704.4,758.7 L715.2,761.0"/>
<path d="M704.0,691.2 L707.7,717.5 L706.5,758.9"/>
<path d="M715.2,761.0 L715.2,796.7 L719.9,805.8 L724.7,814.9 L721.8,828.5 L721.8,837.4 L718.5,847.5"/>
<path d="M715.2,773.8 L771.2,773.8"/>
<path d="M521.4,527.2 L628.9,527.2 L640.5,533.9 L652.1,531.2 L659.8,535.2 L669.1,540.7"/>
<path d="M668.6,513.9 L668.6,465.1 L660.8,456.9 L666.4,447.4 L665.7,437.4 L662.4,420.4 L656.9,391.8 L653.5,359.7"/>
<path d="M665.7,513.9 L769.9,513.9"/>
<path d="M665.7,513.9 L668.6,524.6 L669.1,540.7 L674.4,553.5 L675.3,566.5 L678.8,573.0 L680.8,581.9 L681.7,590.1 L687.0,598.5 L690.8,604.9 L698.6,611.2 L694.7,615.9 L698.6,622.5 L704.0,627.5 L704.0,691.2"/>
<path d="M681.7,590.1 L760.0,589.6 L766.0,595.2"/>
<path d="M704.0,691.2 L790.6,691.2 L786.7,703.2 L799.3,703.2"/>
<path d="M739.3,480.2 L745.1,485.7 L750.9,488.4 L761.5,499.2 L769.3,505.9 L769.9,513.9 L771.2,525.9 L773.2,533.9 L780.9,540.4 L790.4,550.9 L790.0,557.4 L782.8,566.5 L773.2,568.6 L774.1,576.8 L772.2,584.5 L766.4,594.7 L766.0,606.6 L767.4,612.4 L777.0,622.5 L781.9,631.2 L785.2,630.7 L790.0,632.9 L790.0,639.2 L786.7,649.8 L793.5,655.4 L797.0,657.2 L802.8,671.8 L810.4,679.1 L802.6,689.3 L803.2,691.2 L799.3,703.2 L795.4,712.8 L792.1,723.9 L787.7,730.6 L782.3,738.1 L775.1,750.5 L772.6,764.5 L771.2,773.8 L772.2,783.0 L776.1,788.7 L772.2,796.7 L766.0,807.0 L762.5,819.4"/>
<path d="M762.5,819.4 L798.7,819.4 L797.0,827.3 L802.8,837.9"/>
<path d="M753.8,426.1 L749.1,427.5 L749.1,443.5 L744.1,447.1 L737.7,456.9 L741.2,465.1 L739.3,472.0 L739.3,480.2"/>
<path d="M780.9,540.4 L836.1,540.4"/>
<path d="M840.0,470.6 L839.0,463.8 L835.1,452.7 L830.3,447.1 L820.6,445.7 L810.9,443.0 L793.5,437.4 L785.4,429.8"/>
<path d="M831.3,659.6 L833.2,649.8 L841.5,637.4 L841.3,621.2 L841.3,559.8"/>
<path d="M893.8,627.5 L893.8,561.3"/>
<path d="M847.7,559.8 L893.8,559.8 L893.8,561.3 L920.4,560.5"/>
<path d="M977.1,588.6 L973.3,603.1 L970.7,612.4 L959.1,620.0 L956.8,623.2 L952.3,632.5 L945.7,633.9 L938.8,644.4 L929.1,636.7 L914.2,638.7 L900.0,627.5 L893.8,627.5 L883.0,636.7 L875.8,648.1 L870.0,655.9 L861.3,654.7 L849.7,660.1 L840.6,655.4 L831.3,659.6 L830.3,668.2 L820.6,677.2 L810.0,679.1"/>
<path d="M936.8,644.4 L939.7,657.2 L949.0,666.0 L937.8,674.3 L927.2,681.6 L915.9,688.8"/>
<path d="M803.2,691.2 L830.9,691.2 L830.9,686.9 L861.3,688.1 L915.9,688.8 L954.7,688.8 L987.2,690.0 L1067.2,690.0"/>
<path d="M787.7,727.0 L927.2,727.0"/>
<path d="M954.7,689.0 L953.3,694.8 L946.5,700.8 L936.8,703.2 L927.2,709.2 L919.4,713.7 L909.7,716.3 L904.9,721.1 L903.5,727.0"/>
<path d="M828.4,727.0 L830.3,729.4 L823.9,789.9 L824.5,837.0"/>
<path d="M878.7,727.0 L886.9,776.8 L891.3,789.9 L889.4,808.1 L890.4,819.4 L893.1,826.2"/>
<path d="M840.0,819.4 L890.4,819.4"/>
<path d="M840.0,819.4 L843.9,826.2 L841.5,835.6"/>
<path d="M893.1,826.2 L944.6,829.1 L947.5,833.9 L949.4,825.1 L959.1,826.2"/>
<path d="M970.3,796.0 L964.0,785.3 L958.1,773.8 L949.0,762.9 L937.8,750.5 L929.1,738.8 L927.2,727.0"/>
<path d="M927.2,727.0 L942.6,722.3 L966.9,722.3 L967.1,724.7 L969.8,727.0 L971.7,731.7 L993.4,731.7 L1015.3,754.0"/>
<path d="M949.0,666.0 L955.2,673.1 L963.0,671.8 L971.7,669.4 L981.4,667.0 L988.2,655.9 L994.0,644.9 L1002.7,639.9 L1009.5,633.7 L1018.2,626.2 L1019.2,618.7 L1031.2,622.0"/>
<path d="M997.3,611.9 L997.3,625.0 L1004.6,618.7 L1011.2,613.7 L1022.5,612.4 L1028.8,614.9 L1031.2,622.0 L1035.6,627.5 L1044.3,632.5 L1040.5,644.9 L1046.3,647.3 L1058.9,654.7"/>
<path d="M977.1,546.5 L977.1,611.9 L1068.7,611.9 L1072.4,609.2 L1075.9,609.9"/>
<path d="M991.8,546.5 L991.8,553.5 L1077.3,553.5 L1089.9,569.9 L1081.5,579.4 L1080.2,587.1 L1088.5,599.8 L1081.5,606.1 L1075.9,609.9"/>
<path d="M1068.7,611.9 L1070.5,643.4 L1083.1,643.6"/>
<path d="M1089.9,570.1 L1105.4,579.4"/>
<path d="M1110.2,579.4 L1108.6,576.8 L1112.1,571.7 L1113.1,552.2 L1117.6,533.9 L1117.0,511.3 L1114.7,511.3 L1116.0,473.4"/>
<path d="M1117.6,533.9 L1155.7,534.6 L1165.0,530.7"/>
<path d="M1113.1,552.2 L1146.0,552.7 L1154.2,553.0 L1156.7,561.3 L1159.0,566.5"/>
<path d="M1146.0,552.7 L1144.9,571.2"/>
<path d="M1151.8,473.4 L1148.0,489.7 L1141.2,497.8 L1136.3,509.9 L1133.4,527.2 L1133.2,534.4"/>
<path d="M1167.3,525.4 L1161.9,517.9 L1160.0,465.1"/>
<path d="M212.4,170.6 L212.4,210.5 L217.2,217.0 L224.0,225.2 L237.6,236.5 L244.4,247.7 L253.1,255.7 L264.7,265.2 L274.4,276.1 L285.0,287.1 L296.7,297.9 L303.4,308.6 L313.1,319.3 L316.0,331.4 L315.1,343.4 L320.9,353.8 L327.3,359.7"/>
<path d="M406.1,170.6 L406.1,359.7"/>
<path d="M562.0,170.6 L573.5,359.7"/>
<path d="M693.7,348.4 L693.7,241.6 L756.7,170.6"/>
<path d="M996.5,284.9 L996.5,401.9 L997.9,409.1 L1002.7,420.4 L1012.4,436.8 L1027.9,440.2 L1043.4,450.5 L1056.9,459.6 L1070.5,461.8 L1084.1,457.7 L1096.1,457.7 L1096.6,467.9"/>
<path d="M429.5,812.5 L427.2,822.7 L434.0,836.3 L431.8,852.2 L430.6,865.8 L435.2,878.3 L425.0,879.4 L427.2,890.8 L432.9,899.8 L436.3,908.9 L429.5,918.0 L421.6,922.5"/>
<path d="M436.3,908.9 L443.1,911.2 L447.7,922.5 L456.7,928.2 L464.7,938.4 L472.6,936.1 L474.9,927.1 L480.6,913.5 L490.8,915.7 L502.1,919.1 L512.3,921.4 L515.7,913.5 L525.9,912.3"/>
<path d="M536.1,864.7 L529.3,874.9 L524.8,888.5 L525.9,904.4 L525.9,912.3 L535.0,918.0 L536.1,929.3 L532.7,943.0 L538.4,952.0 L545.2,956.6 L549.8,949.8 L554.3,949.8"/>
<path d="M464.7,938.4 L461.3,945.2 L468.1,956.6 L477.1,967.9 L485.1,977.0 L487.4,983.8 L495.3,992.9 L502.1,999.7 L511.2,1006.5 L515.7,1004.2"/>
<path d="M549.8,963.4 L536.1,963.4 L527.1,974.7 L521.4,986.1 L519.1,997.4 L515.7,1004.2 L518.0,1015.6 L527.1,1022.4 L529.3,1029.2 L518.0,1038.3"/>
<path d="M554.3,949.8 L563.4,950.9 L572.5,956.6 L581.5,961.1 L588.3,963.4"/>
<path d="M602.0,890.8 L595.1,893.0 L588.3,902.1 L588.3,911.2 L580.4,918.0 L579.3,924.8 L584.9,936.1 L594.0,946.4 L586.1,949.8 L583.8,958.8 L581.5,961.1"/>
<path d="M603.1,893.0 L606.5,906.6 L613.3,918.0 L619.0,928.2 L626.9,930.5 L626.9,943.0 L617.8,952.0 L606.5,961.1 L608.8,974.7 L599.7,983.8 L591.7,988.3 L599.7,992.9 L604.2,999.7 L617.8,1005.4 L629.2,1007.6 L640.5,1007.6"/>
<path d="M588.3,963.4 L590.6,979.3 L591.7,988.3"/>
<path d="M581.5,961.1 L574.7,972.5 L565.6,983.8 L556.6,987.2 L558.8,997.4 L567.9,1003.1 L573.6,999.7 L574.7,1008.8 L570.2,1019.0 L558.8,1008.8"/>
<path d="M629.2,1007.6 L626.9,1017.8 L631.4,1029.2 L633.7,1038.3"/>
<path d="M570.2,1019.0 L581.5,1021.2 L592.9,1022.4 L604.2,1024.6 L606.5,1031.4 L597.4,1036.0"/>
<path d="M558.8,1008.8 L563.4,1015.6 L556.6,1021.2 L547.5,1020.1 L549.8,1008.8"/>
<path d="M547.5,1020.1 L545.2,1026.9 L536.1,1033.7 L527.1,1029.2"/>
<path d="M570.2,1019.0 L565.6,1026.9 L558.8,1038.3"/>
<path d="M613.3,1023.5 L617.8,1029.2 L626.9,1031.4 L633.7,1033.7"/>
<path d="M515.7,1004.2 L522.5,1000.8 L527.1,1004.2 L530.5,1011.0 L536.1,1007.6 L538.4,1013.3"/>
<path d="M326.7,886.2 L352.3,886.2"/>
<path d="M755.0,424.2 L777.2,410.3 L793.9,408.9"/>
<path d="M785.6,429.7 L793.9,408.9 L802.2,389.4"/>
<path d="M849.3,461.3 L858.5,461.3 L865.9,466.9 L858.5,477.0 L853.0,493.7 L849.3,514.1 L846.0,545.0 L843.5,562.0"/>
</g>
<g fill="none" stroke="#bcb6b6" stroke-width="1.9" stroke-linejoin="round">
<path d="M148.5,359.7 L693.7,359.7 L693.7,348.4 L699.6,350.8 L702.5,364.1 L710.2,368.5 L725.7,371.5 L737.3,373.8 L747.0,380.2 L754.8,381.7 L764.4,387.5 L778.0,386.0 L789.6,386.0 L801.2,388.9 L824.5,380.2 L893.3,409.1 L895.2,430.3 L902.0,431.7 L907.8,437.4 L910.7,443.0 L917.5,447.1 L919.4,452.7 L938.8,463.8 L945.6,511.3 L940.3,527.2 L938.4,537.8 L928.1,544.9 L926.6,552.2 L935.3,561.8 L962.0,547.0 L991.1,540.4 L1007.5,531.7 L1005.2,520.3 L1012.4,510.5 L1049.2,510.5 L1056.0,497.8 L1066.6,491.1 L1079.2,477.5 L1089.9,473.4 L1151.8,473.4 L1153.8,466.5 L1160.0,465.1 L1164.4,466.5 L1167.3,462.4 L1176.1,448.5 L1179.9,434.6 L1181.1,426.1 L1196.4,404.8"/>
<path d="M268.2,784.6 L314.7,780.2 L312.9,785.5 L385.4,812.0 L440.8,812.0 L440.8,801.7 L473.3,801.7 L479.7,809.2 L492.3,819.4 L503.0,827.3 L507.8,835.2 L509.1,843.0 L514.6,851.7 L526.2,858.6 L538.8,864.8 L543.6,859.7 L547.9,847.5 L555.2,846.4 L569.8,846.8 L581.4,856.4 L590.1,870.8 L595.9,881.8 L607.5,895.0 L609.5,901.5 L616.3,917.8 L625.0,923.2 L634.7,928.2 L646.3,930.8 L655.0,930.8"/>
</g>
<circle cx="201.9" cy="406.0" r="12.4" fill="#7cc4d1" stroke="rgba(255,255,255,0.55)" stroke-width="1.8"/>
<circle cx="220.0" cy="673.2" r="26.4" fill="none" stroke="rgba(255,255,255,0.5)" stroke-width="3.2"/>
<path d="M220.00,673.20 L220.00,646.00 A27.20,27.20 0 0 1 246.37,666.52 Z" fill="#bee3e9" stroke="rgba(255,255,255,0.75)" stroke-width="1.3" stroke-linejoin="round"/>
<path d="M220.00,673.20 L246.37,666.52 A27.20,27.20 0 0 1 207.05,697.12 Z" fill="#bde2e8" stroke="rgba(255,255,255,0.75)" stroke-width="1.3" stroke-linejoin="round"/>
<path d="M220.00,673.20 L207.05,697.12 A27.20,27.20 0 0 1 193.63,666.52 Z" fill="#7cc4d1" stroke="rgba(255,255,255,0.75)" stroke-width="1.3" stroke-linejoin="round"/>
<path d="M220.00,673.20 L193.63,666.52 A27.20,27.20 0 0 1 203.29,651.74 Z" fill="#a6bcc2" stroke="rgba(255,255,255,0.75)" stroke-width="1.3" stroke-linejoin="round"/>
<path d="M220.00,673.20 L203.29,651.74 A27.20,27.20 0 0 1 220.00,646.00 Z" fill="#e6e6e6" stroke="rgba(255,255,255,0.75)" stroke-width="1.3" stroke-linejoin="round"/>
<circle cx="492.9" cy="630.3" r="13.8" fill="none" stroke="rgba(255,255,255,0.5)" stroke-width="3.2"/>
<path d="M492.90,630.30 L492.90,615.70 A14.60,14.60 0 0 1 492.90,644.90 Z" fill="#7cc4d1" stroke="rgba(255,255,255,0.75)" stroke-width="1.3" stroke-linejoin="round"/>
<path d="M492.90,630.30 L492.90,644.90 A14.60,14.60 0 0 1 492.90,615.70 Z" fill="#a6bcc2" stroke="rgba(255,255,255,0.75)" stroke-width="1.3" stroke-linejoin="round"/>
<circle cx="612.8" cy="809.2" r="19.6" fill="none" stroke="rgba(255,255,255,0.5)" stroke-width="3.2"/>
<path d="M612.80,809.20 L612.80,788.80 A20.40,20.40 0 0 1 612.80,829.60 Z" fill="#bee3e9" stroke="rgba(255,255,255,0.75)" stroke-width="1.3" stroke-linejoin="round"/>
<path d="M612.80,809.20 L612.80,829.60 A20.40,20.40 0 0 1 598.38,794.78 Z" fill="#7cc4d1" stroke="rgba(255,255,255,0.75)" stroke-width="1.3" stroke-linejoin="round"/>
<path d="M612.80,809.20 L598.38,794.78 A20.40,20.40 0 0 1 612.80,788.80 Z" fill="#e6e6e6" stroke="rgba(255,255,255,0.75)" stroke-width="1.3" stroke-linejoin="round"/>
<circle cx="810.1" cy="602.0" r="17.4" fill="none" stroke="rgba(255,255,255,0.5)" stroke-width="3.2"/>
<path d="M810.10,602.00 L810.10,583.80 A18.20,18.20 0 0 1 820.80,616.72 Z" fill="#bee3e9" stroke="rgba(255,255,255,0.75)" stroke-width="1.3" stroke-linejoin="round"/>
<path d="M810.10,602.00 L820.80,616.72 A18.20,18.20 0 0 1 799.40,616.72 Z" fill="#7cc4d1" stroke="rgba(255,255,255,0.75)" stroke-width="1.3" stroke-linejoin="round"/>
<path d="M810.10,602.00 L799.40,616.72 A18.20,18.20 0 0 1 792.79,596.38 Z" fill="#789ba3" stroke="rgba(255,255,255,0.75)" stroke-width="1.3" stroke-linejoin="round"/>
<path d="M810.10,602.00 L792.79,596.38 A18.20,18.20 0 0 1 810.10,583.80 Z" fill="#e6e6e6" stroke="rgba(255,255,255,0.75)" stroke-width="1.3" stroke-linejoin="round"/>
<circle cx="935.1" cy="594.7" r="15.3" fill="none" stroke="rgba(255,255,255,0.5)" stroke-width="3.2"/>
<path d="M935.10,594.70 L935.10,578.60 A16.10,16.10 0 0 1 949.04,602.75 Z" fill="#bee3e9" stroke="rgba(255,255,255,0.75)" stroke-width="1.3" stroke-linejoin="round"/>
<path d="M935.10,594.70 L949.04,602.75 A16.10,16.10 0 1 1 935.10,578.60 Z" fill="#7cc4d1" stroke="rgba(255,255,255,0.75)" stroke-width="1.3" stroke-linejoin="round"/>
<circle cx="885.1" cy="666.7" r="12.4" fill="#bee3e9" stroke="rgba(255,255,255,0.55)" stroke-width="1.8"/>
<circle cx="1012.7" cy="667.3" r="12.4" fill="#7cc4d1" stroke="rgba(255,255,255,0.55)" stroke-width="1.8"/>
<circle cx="1150.7" cy="509.0" r="12.4" fill="#bee3e9" stroke="rgba(255,255,255,0.55)" stroke-width="1.8"/>
<circle cx="1150.5" cy="549.1" r="16.0" fill="none" stroke="rgba(255,255,255,0.5)" stroke-width="3.2"/>
<path d="M1150.50,549.10 L1150.50,532.30 A16.80,16.80 0 0 1 1167.30,549.10 Z" fill="#bee3e9" stroke="rgba(255,255,255,0.75)" stroke-width="1.3" stroke-linejoin="round"/>
<path d="M1150.50,549.10 L1167.30,549.10 A16.80,16.80 0 1 1 1150.50,532.30 Z" fill="#7cc4d1" stroke="rgba(255,255,255,0.75)" stroke-width="1.3" stroke-linejoin="round"/>
<rect x="223.9" y="391.7" width="111.2" height="28.8" rx="5" fill="rgba(118,118,118,0.56)"/><text x="233.8" y="411.4" font-size="15.2" fill="#000" textLength="91.0" lengthAdjust="spacing">Washington</text>
<rect x="173.2" y="608.3" width="93.7" height="28.5" rx="5" fill="rgba(118,118,118,0.56)"/><text x="182.6" y="627.5" font-size="15.2" fill="#000" textLength="74.0" lengthAdjust="spacing">California</text>
<rect x="448.6" y="577.6" width="88.4" height="28.7" rx="5" fill="rgba(118,118,118,0.56)"/><text x="458.0" y="596.7" font-size="15.2" fill="#000" textLength="68.9" lengthAdjust="spacing">Colorado</text>
<rect x="581.1" y="752.6" width="64.1" height="28.5" rx="5" fill="rgba(118,118,118,0.56)"/><text x="590.5" y="771.7" font-size="15.2" fill="#000" textLength="44.4" lengthAdjust="spacing">Texas</text>
<rect x="775.2" y="545.7" width="70.8" height="28.2" rx="5" fill="rgba(118,118,118,0.56)"/><text x="784.6" y="564.5" font-size="15.2" fill="#000" textLength="51.3" lengthAdjust="spacing">Illinois</text>
<rect x="907.5" y="540.5" width="55.7" height="28.1" rx="5" fill="rgba(118,118,118,0.56)"/><text x="916.8" y="559.8" font-size="15.2" fill="#000" textLength="36.5" lengthAdjust="spacing">Ohio</text>
<rect x="839.6" y="616.0" width="91.6" height="28.5" rx="5" fill="rgba(118,118,118,0.56)"/><text x="849.4" y="635.5" font-size="15.2" fill="#000" textLength="71.2" lengthAdjust="spacing">Kentucky</text>
<rect x="973.5" y="616.4" width="79.1" height="28.4" rx="5" fill="rgba(118,118,118,0.56)"/><text x="982.9" y="635.5" font-size="15.2" fill="#000" textLength="59.4" lengthAdjust="spacing">Virginia</text>
<rect x="987.0" y="495.2" width="143.1" height="28.4" rx="5" fill="rgba(118,118,118,0.56)"/><text x="997.1" y="514.3" font-size="15.2" fill="#000" textLength="123.0" lengthAdjust="spacing">New Hampshire</text>
<rect x="992.1" y="535.1" width="133.2" height="28.7" rx="5" fill="rgba(118,118,118,0.56)"/><text x="1001.9" y="554.8" font-size="15.2" fill="#000" textLength="113.4" lengthAdjust="spacing">Massachusetts</text>
<g filter="url(#sh)">
<rect x="1135" y="187.2" width="41.4" height="40.0" fill="#fff"/>
<rect x="1135" y="228.9" width="41.4" height="40.5" fill="#fff"/>
<rect x="1135" y="275.0" width="41.4" height="41.4" fill="#fff"/>
<rect x="1135" y="321.4" width="41.4" height="41.6" fill="#fff"/>
</g>
<g stroke="#7b8088" stroke-width="2" fill="none"><path d="M1148.5,207.5H1163M1155.7,200.3V214.8"/><path d="M1148.5,249H1163"/></g>
<path d="M1152.2,291.5H1159.6L1163.2,300.5H1148.6Z" fill="#7b8088"/>
<path d="M1155.8,333L1160,342L1155.8,351L1151.6,342Z" fill="#7b8088"/><path d="M1155.8,336.2L1158,341.2H1153.6Z" fill="#fff"/>
<rect x="176.2" y="1018.7" width="9" height="8.3" fill="#f25022"/><rect x="186.2" y="1018.7" width="9" height="8.3" fill="#7fba00"/><rect x="176.2" y="1027.9" width="9" height="8.3" fill="#00a4ef"/><rect x="186.2" y="1027.9" width="9" height="8.3" fill="#ffb900"/>
<text x="200.3" y="1032.5" font-size="14.6" fill="#686868" style="font-family:'Liberation Sans',sans-serif" textLength="106" lengthAdjust="spacingAndGlyphs" stroke="#686868" stroke-width="0.3">Microsoft Azure</text>
<text x="984.7" y="1031.7" font-size="11" fill="#111" stroke="#111" stroke-width="0.25" style="font-family:'Liberation Serif',serif" textLength="191.5" lengthAdjust="spacing" xml:space="preserve">©2025 OSM  ©2025 TomTom  Feedback</text>
<line x1="1132.2" x2="1176.4" y1="1035.2" y2="1035.2" stroke="#444" stroke-width="1"/>
</svg>

<!-- REVENUE CARD -->
<div class="card" style="left:1224px;top:89px;width:536px;height:310px;"></div>
<div class="title" style="left:1240px;top:101.2px;">Revenue <span style="font-size:16.4px;color:#666;letter-spacing:0.45px;margin-left:-0.5px;">in M EUR</span></div>
<svg class="abs" style="left:1225px;top:140px" width="534" height="250" viewBox="1225 140 534 250">
<path d="M1437.30,167.60 A92.40,92.40 0 0 1 1484.39,180.50 L1465.43,212.51 A55.20,55.20 0 0 0 1437.30,204.80 Z" fill="#bee3e9" stroke="#bee3e9" stroke-width="0.6"/>
<path d="M1484.39,180.50 A92.40,92.40 0 0 1 1455.70,350.55 L1448.30,314.09 A55.20,55.20 0 0 0 1465.43,212.51 Z" fill="#bde2e8" stroke="#bde2e8" stroke-width="0.6"/>
<path d="M1455.70,350.55 A92.40,92.40 0 0 1 1356.27,215.59 L1388.89,233.47 A55.20,55.20 0 0 0 1448.30,314.09 Z" fill="#7cc4d1" stroke="#7cc4d1" stroke-width="0.6"/>
<path d="M1356.27,215.59 A92.40,92.40 0 0 1 1380.04,187.48 L1403.09,216.68 A55.20,55.20 0 0 0 1388.89,233.47 Z" fill="#a6bcc2" stroke="#a6bcc2" stroke-width="0.6"/>
<path d="M1380.04,187.48 A92.40,92.40 0 0 1 1390.21,180.50 L1409.17,212.51 A55.20,55.20 0 0 0 1403.09,216.68 Z" fill="#789ba3" stroke="#789ba3" stroke-width="0.6"/>
<path d="M1390.21,180.50 A92.40,92.40 0 0 1 1437.30,167.60 L1437.30,204.80 A55.20,55.20 0 0 0 1409.17,212.51 Z" fill="#e6e6e6" stroke="#e6e6e6" stroke-width="0.6"/>
<text x="1353.5" y="161.9" font-size="14" fill="#666" textLength="48.4" lengthAdjust="spacing">4 (9%)</text>
<polyline points="1408.1,156.6 1423.1,156.6 1425.0,166.0" fill="none" stroke="#a0a0a0" stroke-width="1"/>
<text x="1309.0" y="179.8" font-size="14" fill="#666" textLength="47.5" lengthAdjust="spacing">1 (2%)</text>
<polyline points="1362.8,174.0 1378.1,174.0 1383.8,181.9" fill="none" stroke="#a0a0a0" stroke-width="1"/>
<text x="1288.1" y="198.1" font-size="14" fill="#666" textLength="48.2" lengthAdjust="spacing">3 (6%)</text>
<polyline points="1342.1,192.8 1357.2,192.8 1365.0,198.8" fill="none" stroke="#a0a0a0" stroke-width="1"/>
<text x="1485.6" y="165.0" font-size="14" fill="#666" textLength="48.4" lengthAdjust="spacing">4 (9%)</text>
<polyline points="1461.9,168.8 1464.8,159.6 1480.0,159.6" fill="none" stroke="#a0a0a0" stroke-width="1"/>
<text x="1533.8" y="338.2" font-size="14" fill="#666" textLength="65.1" lengthAdjust="spacing">18 (38%)</text>
<polyline points="1505.7,326.0 1511.8,333.0 1527.0,333.0" fill="none" stroke="#a0a0a0" stroke-width="1"/>
<text x="1313.2" y="363.2" font-size="14" fill="#666" textLength="65.1" lengthAdjust="spacing">17 (36%)</text>
<polyline points="1403.3,348.9 1400.3,357.1 1384.4,357.1" fill="none" stroke="#a0a0a0" stroke-width="1"/>
<circle cx="1640.7" cy="187.5" r="6" fill="#bee3e9"/>
<text x="1650.2" y="192.5" font-size="14" fill="#666" textLength="32.3" lengthAdjust="spacing">0 - 1</text>
<circle cx="1640.7" cy="216.9" r="6" fill="#bde2e8"/>
<text x="1650.2" y="221.9" font-size="14" fill="#666" textLength="41.3" lengthAdjust="spacing">1 - 10</text>
<circle cx="1640.7" cy="246.5" r="6" fill="#7cc4d1"/>
<text x="1650.2" y="251.5" font-size="14" fill="#666" textLength="58.8" lengthAdjust="spacing">10 - 100</text>
<circle cx="1640.7" cy="275.5" r="6" fill="#a6bcc2"/>
<text x="1650.2" y="280.5" font-size="14" fill="#666" textLength="67.8" lengthAdjust="spacing">100 - 500</text>
<circle cx="1640.7" cy="305.2" r="6" fill="#789ba3"/>
<text x="1650.2" y="310.2" font-size="14" fill="#666" textLength="81.0" lengthAdjust="spacing">500 - 1,000</text>
<circle cx="1640.7" cy="334.2" r="6" fill="#e6e6e6"/>
<text x="1650.2" y="339.2" font-size="14" fill="#666" textLength="22.3" lengthAdjust="spacing">n/a</text>
</svg>

<!-- HEADCOUNT CARD -->
<div class="card" style="left:1224px;top:418px;width:536px;height:310px;"></div>
<div class="title" style="left:1240px;top:430.4px;letter-spacing:0;">Headcount</div>
<svg class="abs" style="left:1225px;top:470px" width="534" height="250" viewBox="1225 470 534 250">
<path d="M1435.40,496.45 A92.30,92.30 0 1 1 1417.02,679.20 L1424.39,642.94 A55.30,55.30 0 1 0 1435.40,533.45 Z" fill="#ffd7d7" stroke="#ffd7d7" stroke-width="0.6"/>
<path d="M1417.02,679.20 A92.30,92.30 0 0 1 1343.56,579.51 L1380.38,583.21 A55.30,55.30 0 0 0 1424.39,642.94 Z" fill="#ffd1d1" stroke="#ffd1d1" stroke-width="0.6"/>
<path d="M1343.56,579.51 A92.30,92.30 0 0 1 1399.37,503.77 L1413.81,537.84 A55.30,55.30 0 0 0 1380.38,583.21 Z" fill="#ffc9c9" stroke="#ffc9c9" stroke-width="0.6"/>
<path d="M1399.37,503.77 A92.30,92.30 0 0 1 1423.10,497.27 L1428.03,533.94 A55.30,55.30 0 0 0 1413.81,537.84 Z" fill="#c28c8f" stroke="#c28c8f" stroke-width="0.6"/>
<path d="M1423.10,497.27 A92.30,92.30 0 0 1 1435.40,496.45 L1435.40,533.45 A55.30,55.30 0 0 0 1428.03,533.94 Z" fill="#5c0000" stroke="#5c0000" stroke-width="0.6"/>
<text x="1338.2" y="494.0" font-size="14" fill="#666" textLength="48.3" lengthAdjust="spacing">2 (4%)</text>
<polyline points="1392.6,488.5 1407.0,488.5 1410.3,498.0" fill="none" stroke="#a0a0a0" stroke-width="1"/>
<text x="1292.4" y="513.0" font-size="14" fill="#666" textLength="56.8" lengthAdjust="spacing">8 (17%)</text>
<polyline points="1355.3,507.2 1370.6,507.2 1376.7,514.8" fill="none" stroke="#a0a0a0" stroke-width="1"/>
<text x="1517.9" y="678.3" font-size="14" fill="#666" textLength="65.7" lengthAdjust="spacing">25 (53%)</text>
<polyline points="1491.0,664.5 1497.4,672.8 1512.4,672.8" fill="none" stroke="#a0a0a0" stroke-width="1"/>
<text x="1292.4" y="682.5" font-size="14" fill="#666" textLength="65.7" lengthAdjust="spacing">11 (23%)</text>
<polyline points="1384.4,669.1 1379.5,677.3 1364.2,677.3" fill="none" stroke="#a0a0a0" stroke-width="1"/>
<circle cx="1637.0" cy="531.3" r="6" fill="#ffd7d7"/>
<text x="1646.5" y="536.3" font-size="14" fill="#666" textLength="50.0" lengthAdjust="spacing">11 - 50</text>
<circle cx="1637.0" cy="560.6" r="6" fill="#ffd1d1"/>
<text x="1646.5" y="565.6" font-size="14" fill="#666" textLength="59.0" lengthAdjust="spacing">51 - 100</text>
<circle cx="1637.0" cy="589.7" r="6" fill="#ffc9c9"/>
<text x="1646.5" y="594.7" font-size="14" fill="#666" textLength="67.5" lengthAdjust="spacing">101 - 500</text>
<circle cx="1637.0" cy="619.3" r="6" fill="#c28c8f"/>
<text x="1646.5" y="624.3" font-size="14" fill="#666" textLength="76.5" lengthAdjust="spacing">501 - 1000</text>
<circle cx="1637.0" cy="648.3" r="6" fill="#5c0000"/>
<text x="1646.5" y="653.3" font-size="14" fill="#666" textLength="84.7" lengthAdjust="spacing">1000 - 5000</text>
</svg>

<!-- VERTICAL CARD -->
<div class="card" style="left:1224px;top:747px;width:536px;height:310px;"></div>
<div class="title" style="left:1240px;top:759.2px;letter-spacing:0.1px;">Vertical</div>
<svg class="abs" style="left:1225px;top:800px" width="534" height="250" viewBox="1225 800 534 250">
<g stroke="#d8d8d8" stroke-width="1" stroke-dasharray="1 5"><line x1="1268" x2="1745" y1="882.5" y2="882.5"/><line x1="1268" x2="1745" y1="962.5" y2="962.5"/></g>
<g class="seg">
<text x="1257.3" y="887.6" font-size="14.4" fill="#666" text-anchor="end">20</text>
<text x="1257.3" y="967.3" font-size="14.4" fill="#666" text-anchor="end">0</text>
<rect x="1299.4" y="898.3" width="55.7" height="63.8" fill="#bb7cae"/>
<text x="1327.2" y="886.0" font-size="14.5" fill="#666" text-anchor="middle">16</text>
<text transform="translate(1321.7,978.6) rotate(-35)" font-size="15" letter-spacing="0.25" fill="#111" text-anchor="end">Energy</text>
<rect x="1371.1" y="858.5" width="55.7" height="103.6" fill="#a3528f"/>
<text x="1398.9" y="846.2" font-size="14.5" fill="#666" text-anchor="middle">26</text>
<text transform="translate(1393.3,978.6) rotate(-35)" font-size="15" letter-spacing="0.25" fill="#111" text-anchor="end">Food &amp; Bev...</text>
<rect x="1442.8" y="942.2" width="55.7" height="19.9" fill="#d9a8cf"/>
<text x="1470.6" y="929.9" font-size="14.5" fill="#666" text-anchor="middle">5</text>
<text transform="translate(1465.0,978.6) rotate(-35)" font-size="15" letter-spacing="0.25" fill="#111" text-anchor="end">Intralogistics</text>
<rect x="1514.4" y="890.4" width="55.7" height="71.7" fill="#b672a8"/>
<text x="1542.3" y="878.1" font-size="14.5" fill="#666" text-anchor="middle">18</text>
<text transform="translate(1536.7,978.6) rotate(-35)" font-size="15" letter-spacing="0.25" fill="#111" text-anchor="end">Pharma</text>
<rect x="1586.1" y="838.6" width="55.7" height="123.5" fill="#973f80"/>
<text x="1614.0" y="826.3" font-size="14.5" fill="#666" text-anchor="middle">31</text>
<text transform="translate(1608.4,978.6) rotate(-35)" font-size="15" letter-spacing="0.25" fill="#111" text-anchor="end">Shopfloor</text>
<rect x="1657.8" y="938.2" width="55.7" height="23.9" fill="#d5a1cb"/>
<text x="1685.7" y="925.9" font-size="14.5" fill="#666" text-anchor="middle">6</text>
<text transform="translate(1680.1,978.6) rotate(-35)" font-size="15" letter-spacing="0.25" fill="#111" text-anchor="end">Wood</text>
</g>
</svg>

</body>
</html>
